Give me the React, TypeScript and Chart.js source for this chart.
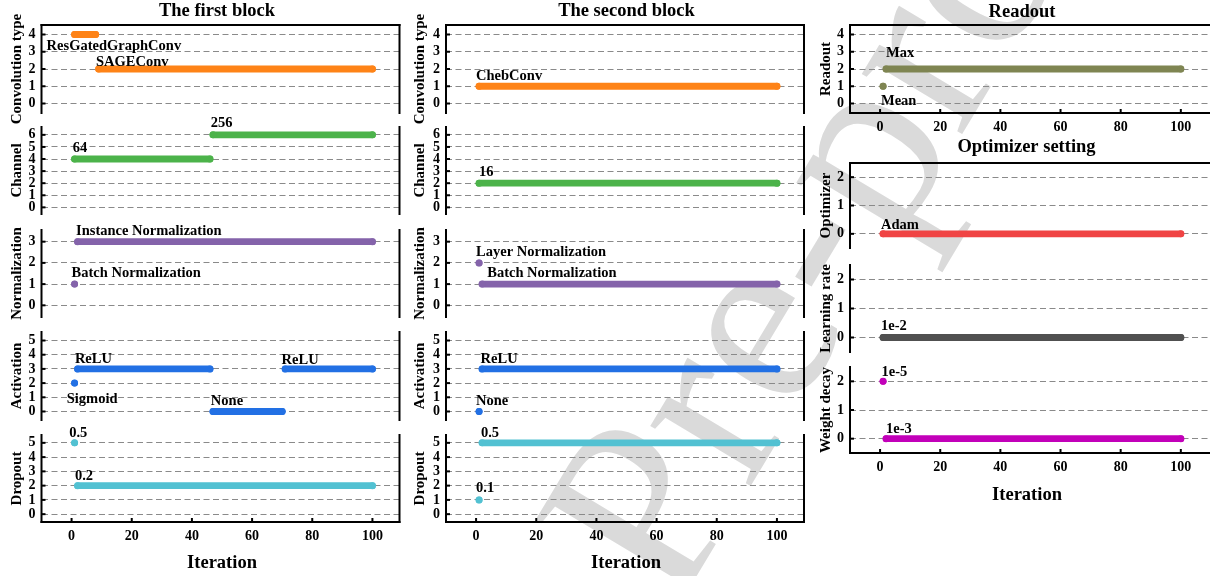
import React, { useEffect, useRef } from 'react';
import { Chart, registerables } from 'chart.js';

Chart.register(...registerables);

const SERIF = "'Liberation Serif', 'Times New Roman', Times, serif";
const W = 1210;
const H = 576;
const CW = 1230;

// ---------------- data ----------------
const iterationTicks = [0, 20, 40, 60, 80, 100];
const convTicks = [0, 1, 2, 3, 4];
const channelTicks = [0, 1, 2, 3, 4, 5, 6];
const normTicks = [0, 1, 2, 3];
const actTicks = [0, 1, 2, 3, 4, 5];
const dropTicks = [0, 1, 2, 3, 4, 5];
const readoutTicks = [0, 1, 2, 3, 4];
const optTicks = [0, 1, 2];

// runs of constant choice: [first iteration, last iteration, encoded value]
const firstConv = [[1, 8, 4], [9, 100, 2]];
const firstChannel = [[1, 46, 4], [47, 100, 6]];
const firstNorm = [[1, 1, 1], [2, 100, 3]];
const firstAct = [[1, 1, 2], [2, 46, 3], [47, 70, 0], [71, 100, 3]];
const firstDrop = [[1, 1, 5], [2, 100, 2]];
const secondConv = [[1, 100, 1]];
const secondChannel = [[1, 100, 2]];
const secondNorm = [[1, 1, 2], [2, 100, 1]];
const secondAct = [[1, 1, 0], [2, 100, 3]];
const secondDrop = [[1, 1, 1], [2, 100, 5]];
const readoutRuns = [[1, 1, 1], [2, 100, 2]];
const optimizerRuns = [[1, 100, 0]];
const learningRateRuns = [[1, 100, 0]];
const weightDecayRuns = [[1, 1, 2], [2, 100, 0]];

// annotations: [text, iteration, value]
const firstConvText = [['ResGatedGraphConv', -8.3, 3.1], ['SAGEConv', 8.1, 2.19]];
const firstChannelText = [['64', 0.4, 4.56], ['256', 46.3, 6.68]];
const firstNormText = [['Instance Normalization', 1.5, 3.32], ['Batch Normalization', 0, 1.35]];
const firstActText = [['ReLU', 1.1, 3.39], ['Sigmoid', -1.6, 0.62], ['None', 46.3, 0.45], ['ReLU', 69.8, 3.32]];
const firstDropText = [['0.5', -0.8, 5.43], ['0.2', 1.1, 2.39]];
const secondConvText = [['ChebConv', 0, 1.36]];
const secondChannelText = [['16', 1, 2.62]];
const secondNormText = [['Layer Normalization', 0, 2.34], ['Batch Normalization', 3.7, 1.35]];
const secondActText = [['ReLU', 1.5, 3.44], ['None', 0, 0.45]];
const secondDropText = [['0.5', 1.6, 5.39], ['0.1', 0, 1.53]];
const readoutText = [['Max', 2, 2.68], ['Mean', 0.3, -0.07]];
const optimizerText = [['Adam', 0.3, 0.16]];
const learningRateText = [['1e-2', 0.3, 0.26]];
const weightDecayText = [['1e-5', 0.5, 2.2], ['1e-3', 2, 0.21]];

// ---------------- colours ----------------
const C_ORANGE = '#fe8317';
const C_GREEN = '#4cb34a';
const C_PURPLE = '#8463aa';
const C_BLUE = '#2270e4';
const C_CYAN = '#52c1d2';
const C_OLIVE = '#7f8552';
const C_RED = '#f04444';
const C_GREY = '#505050';
const C_MAGENTA = '#c200b9';

// ---------------- layout ----------------
const colLeft = { left: 41.5, right: 399.5, xMin: -10, xMax: 109, yLabelX: 17.5 };
const colMid = { left: 446, right: 804, xMin: -10, xMax: 109, yLabelX: 420.5 };
const colRight = { left: 850, right: 1213, xMin: -10, xMax: 110.7, yLabelX: 826 };

const rows = [
  { top: 25, bottom: 113, yMin: -0.55, yMax: 4.55 },
  { top: 127, bottom: 214, yMin: -0.55, yMax: 6.65 },
  { top: 230, bottom: 317, yMin: -0.55, yMax: 3.55 },
  { top: 332, bottom: 420, yMin: -0.6, yMax: 5.6 },
  { top: 435, bottom: 522, yMin: -0.55, yMax: 5.55 },
];

type Panel = {
  col: any; top: number; bottom: number; yMin: number; yMax: number;
  runs: number[][]; texts: any[]; color: string; yTicks: number[]; yLabel: string;
  topSpine?: boolean; bottomAxis?: boolean; rightSpine?: boolean;
  title?: [string, number, number]; xTitle?: [number, number];
};

const panels: Panel[] = [
  { col: colLeft, ...rows[0], runs: firstConv, texts: firstConvText, color: C_ORANGE, yTicks: convTicks, yLabel: 'Convolution type', topSpine: true, rightSpine: true, title: ['The first block', 217, 16] },
  { col: colLeft, ...rows[1], runs: firstChannel, texts: firstChannelText, color: C_GREEN, yTicks: channelTicks, yLabel: 'Channel', rightSpine: true },
  { col: colLeft, ...rows[2], runs: firstNorm, texts: firstNormText, color: C_PURPLE, yTicks: normTicks, yLabel: 'Normalization', rightSpine: true },
  { col: colLeft, ...rows[3], runs: firstAct, texts: firstActText, color: C_BLUE, yTicks: actTicks, yLabel: 'Activation', rightSpine: true },
  { col: colLeft, ...rows[4], runs: firstDrop, texts: firstDropText, color: C_CYAN, yTicks: dropTicks, yLabel: 'Dropout', rightSpine: true, bottomAxis: true, xTitle: [222, 568] },
  { col: colMid, ...rows[0], runs: secondConv, texts: secondConvText, color: C_ORANGE, yTicks: convTicks, yLabel: 'Convolution type', topSpine: true, rightSpine: true, title: ['The second block', 626.5, 16] },
  { col: colMid, ...rows[1], runs: secondChannel, texts: secondChannelText, color: C_GREEN, yTicks: channelTicks, yLabel: 'Channel', rightSpine: true },
  { col: colMid, ...rows[2], runs: secondNorm, texts: secondNormText, color: C_PURPLE, yTicks: normTicks, yLabel: 'Normalization', rightSpine: true },
  { col: colMid, ...rows[3], runs: secondAct, texts: secondActText, color: C_BLUE, yTicks: actTicks, yLabel: 'Activation', rightSpine: true },
  { col: colMid, ...rows[4], runs: secondDrop, texts: secondDropText, color: C_CYAN, yTicks: dropTicks, yLabel: 'Dropout', rightSpine: true, bottomAxis: true, xTitle: [626, 568] },
  { col: colRight, top: 25, bottom: 113, yMin: -0.55, yMax: 4.55, runs: readoutRuns, texts: readoutText, color: C_OLIVE, yTicks: readoutTicks, yLabel: 'Readout', topSpine: true, rightSpine: true, bottomAxis: true, title: ['Readout', 1022, 17] },
  { col: colRight, top: 163, bottom: 248, yMin: -0.5, yMax: 2.5, runs: optimizerRuns, texts: optimizerText, color: C_RED, yTicks: optTicks, yLabel: 'Optimizer', topSpine: true, rightSpine: true, title: ['Optimizer setting', 1026.5, 152] },
  { col: colRight, top: 265, bottom: 352, yMin: -0.5, yMax: 2.5, runs: learningRateRuns, texts: learningRateText, color: C_GREY, yTicks: optTicks, yLabel: 'Learning rate', rightSpine: true },
  { col: colRight, top: 367, bottom: 453, yMin: -0.5, yMax: 2.5, runs: weightDecayRuns, texts: weightDecayText, color: C_MAGENTA, yTicks: optTicks, yLabel: 'Weight decay', rightSpine: true, bottomAxis: true, xTitle: [1027, 500] },
];

const Y_W = 30;
const X_H = 40;

function drawWatermark(ctx: CanvasRenderingContext2D) {
  ctx.save();
  ctx.translate(675, 612);
  ctx.rotate((-59 * Math.PI) / 180);
  ctx.font = `255px ${SERIF}`;
  ctx.fillStyle = '#dadada';
  ctx.textAlign = 'left';
  ctx.textBaseline = 'alphabetic';
  ctx.fillText('Pre-proof', 0, 0);
  ctx.restore();
}

function decorPlugin(p: Panel, watermark: boolean) {
  return {
    id: 'decor',
    beforeDraw(chart: any) {
      if (watermark) drawWatermark(chart.ctx);
    },
    afterDraw(chart: any) {
      const ctx: CanvasRenderingContext2D = chart.ctx;
      const a = chart.chartArea;
      const xs = chart.scales.x;
      const ys = chart.scales.y;
      ctx.save();
      ctx.setLineDash([]);
      ctx.strokeStyle = '#000';
      ctx.lineWidth = 2;
      const line = (x1: number, y1: number, x2: number, y2: number) => {
        ctx.beginPath();
        ctx.moveTo(x1, y1);
        ctx.lineTo(x2, y2);
        ctx.stroke();
      };
      ctx.lineCap = 'square';
      line(a.left, a.top, a.left, a.bottom);
      if (p.rightSpine) line(a.right, a.top, a.right, a.bottom);
      if (p.topSpine) line(a.left, a.top, a.right, a.top);
      if (p.bottomAxis) line(a.left, a.bottom, a.right, a.bottom);
      ctx.lineCap = 'butt';
      for (const v of p.yTicks) {
        const y = ys.getPixelForValue(v);
        line(a.left, y, a.left + 4, y);
      }
      if (p.bottomAxis) {
        for (const v of iterationTicks) {
          const x = xs.getPixelForValue(v);
          line(x, a.bottom, x, a.bottom - 4);
        }
      }
      // annotations
      ctx.fillStyle = '#000';
      ctx.font = `bold 14.5px ${SERIF}`;
      ctx.textAlign = 'left';
      ctx.textBaseline = 'alphabetic';
      for (const [t, xv, yv] of p.texts) {
        ctx.fillText(t, xs.getPixelForValue(xv), ys.getPixelForValue(yv));
      }
      // y label
      ctx.save();
      ctx.translate(p.col.yLabelX, (a.top + a.bottom) / 2);
      ctx.rotate(-Math.PI / 2);
      ctx.font = `bold 15px ${SERIF}`;
      ctx.textAlign = 'center';
      ctx.textBaseline = 'middle';
      ctx.fillText(p.yLabel, 0, 0);
      ctx.restore();
      // title
      if (p.title) {
        ctx.font = `bold 18.5px ${SERIF}`;
        ctx.textAlign = 'center';
        ctx.textBaseline = 'alphabetic';
        ctx.fillText(p.title[0], p.title[1], p.title[2]);
      }
      if (p.xTitle) {
        ctx.font = `bold 18.5px ${SERIF}`;
        ctx.textAlign = 'center';
        ctx.textBaseline = 'alphabetic';
        ctx.fillText('Iteration', p.xTitle[0], p.xTitle[1]);
      }
      ctx.restore();
    },
  };
}

function buildConfig(p: Panel, watermark: boolean): any {
  const datasets = p.runs.map(([s, e, v]) => ({
    data: s === e ? [{ x: s, y: v }] : [{ x: s, y: v }, { x: e, y: v }],
    showLine: true,
    borderColor: p.color,
    backgroundColor: p.color,
    borderWidth: 6.8,
    borderCapStyle: 'round',
    pointRadius: 3.5,
    pointHoverRadius: 3.5,
    pointBorderWidth: 0,
  }));
  const tickFont = { family: SERIF, size: 14, weight: 'bold' };
  return {
    type: 'scatter',
    data: { datasets },
    options: {
      responsive: false,
      animation: false,
      events: [],
      layout: {
        padding: {
          left: p.col.left - Y_W,
          right: CW - p.col.right,
          top: p.top,
          bottom: H - p.bottom - (p.bottomAxis ? X_H : 0),
        },
      },
      plugins: { legend: { display: false }, tooltip: { enabled: false }, title: { display: false } },
      scales: {
        x: {
          type: 'linear',
          min: p.col.xMin,
          max: p.col.xMax,
          display: !!p.bottomAxis,
          afterBuildTicks: (s: any) => { s.ticks = iterationTicks.map((v) => ({ value: v })); },
          afterFit: (s: any) => { s.height = p.bottomAxis ? X_H : 0; },
          grid: { display: false, drawTicks: false },
          border: { display: false },
          ticks: { font: tickFont, color: '#000', padding: 6, maxRotation: 0, autoSkip: false },
        },
        y: {
          type: 'linear',
          min: p.yMin,
          max: p.yMax,
          afterBuildTicks: (s: any) => { s.ticks = p.yTicks.map((v) => ({ value: v })); },
          afterFit: (s: any) => { s.width = Y_W; },
          grid: { color: '#8a8a8a', lineWidth: 1, drawTicks: false },
          border: { display: false, dash: [6, 3.5] },
          ticks: { font: tickFont, color: '#000', padding: 6, autoSkip: false },
        },
      },
    },
    plugins: [decorPlugin(p, watermark)],
  };
}

export default function App() {
  const refs = useRef<(HTMLCanvasElement | null)[]>([]);
  useEffect(() => {
    const charts = panels.map((p, i) => new Chart(refs.current[i] as HTMLCanvasElement, buildConfig(p, i === 0)));
    return () => charts.forEach((c) => c.destroy());
  }, []);
  return (
    <div style={{ position: 'absolute', left: 0, top: 0, width: W, height: H, overflow: 'hidden', background: '#fff' }}>
      {panels.map((_, i) => (
        <canvas
          key={i}
          ref={(el) => { refs.current[i] = el; }}
          width={CW}
          height={H}
          style={{ position: 'absolute', left: 0, top: 0, width: CW, height: H }}
        />
      ))}
    </div>
  );
}
